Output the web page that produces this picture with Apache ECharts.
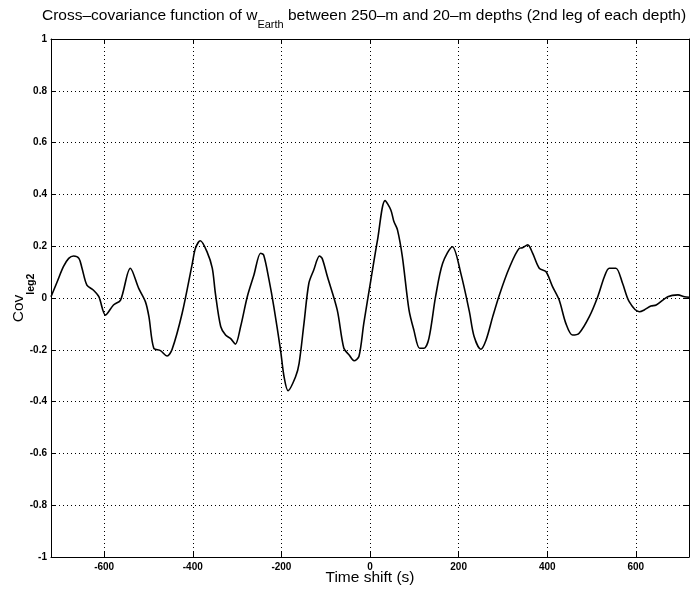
<!DOCTYPE html>
<html><head><meta charset="utf-8">
<script src="https://cdn.jsdelivr.net/npm/echarts@6/dist/echarts.min.js"></script>
<style>html,body{margin:0;padding:0;background:#fff}#c{width:691px;height:591px}</style>
</head><body><div id="c"></div>
<script>
const timeShift = [-720,-706,-692,-680,-669,-657,-650,-639,-624,-612,-597,-579,-563,-541,-522,-507,-499,-488,-473,-458,-447,-424,-401,-394,-383,-368,-356,-349,-337,-326,-315,-304,-292,-277,-262,-247,-240,-228,-217,-202,-194,-185,-168,-160,-149,-138,-127,-114,-108,-96,-74,-59,-47,-36,-25,-14,2,17,34,47,54,62,73,88,99,112,122,133,148,164,186,205,224,235,250,262,277,292,314,337,344,356,367,382,397,412,427,442,457,472,495,514,529,540,555,570,585,608,619,634,646,672,695,710,720];
const covLeg2 = [0.005,0.063,0.121,0.153,0.162,0.153,0.115,0.05,0.03,0.005,-0.066,-0.027,-0.008,0.115,0.037,-0.014,-0.072,-0.194,-0.203,-0.224,-0.2,-0.059,0.134,0.192,0.221,0.179,0.115,0.018,-0.11,-0.143,-0.156,-0.178,-0.11,0.005,0.089,0.173,0.166,0.071,-0.034,-0.2,-0.304,-0.358,-0.304,-0.252,-0.098,0.057,0.108,0.162,0.153,0.082,-0.046,-0.194,-0.22,-0.242,-0.226,-0.098,0.07,0.224,0.376,0.34,0.295,0.263,0.16,-0.046,-0.124,-0.194,-0.194,-0.156,0.005,0.134,0.198,0.095,-0.05,-0.149,-0.198,-0.162,-0.072,0.012,0.115,0.192,0.194,0.205,0.173,0.115,0.102,0.044,-0.008,-0.098,-0.143,-0.136,-0.072,0.005,0.082,0.115,0.115,0.057,-0.014,-0.053,-0.046,-0.031,-0.027,0.005,0.012,0.005,0.003];
const xTicks = [-600,-400,-200,0,200,400,600];
const xRange = [-720, 720];
const yRange = [-1, 1];
const yStep = 0.2;

const FONT = 'Liberation Sans';
const chart = echarts.init(document.getElementById('c'));
const frameLine = {show:true, onZero:false, lineStyle:{color:'#000', width:1}};
const dotted = {show:true, lineStyle:{color:'#000', width:1, type:[1,3]}};
const tickLbl = {fontFamily:FONT, fontSize:10, fontWeight:'bold', color:'#000'};
chart.setOption({
  animation:false,
  backgroundColor:'#fff',
  title:{
    text:'{a|Cross–covariance function of w}{s|Earth}{a| between 250–m and 20–m depths (2nd leg of each depth)}',
    left:37, top:3,
    textStyle:{fontWeight:'normal', rich:{
      a:{fontFamily:FONT, fontSize:15.5, fontWeight:'normal', color:'#000', lineHeight:17, verticalAlign:'top'},
      s:{fontFamily:FONT, fontSize:11, fontWeight:'normal', color:'#000', lineHeight:11, verticalAlign:'top', padding:[11,0,0,0]}
    }}
  },
  grid:{left:51, right:2, top:39, bottom:34, containLabel:false, outerBoundsMode:'none'},
  xAxis:[
    {type:'value', min:xRange[0], max:xRange[1], position:'bottom',
     axisLine:frameLine,
     axisTick:{show:true, inside:true, length:5, customValues:xTicks, lineStyle:{color:'#000'}},
     axisLabel:{customValues:xTicks, margin:5, ...tickLbl},
     splitLine:dotted,
     name:'Time shift (s)', nameLocation:'middle', nameGap:13, nameMoveOverlap:false,
     nameTextStyle:{fontFamily:FONT, fontSize:15.5, color:'#000', verticalAlign:'top'}},
    {type:'value', min:xRange[0], max:xRange[1], position:'top',
     axisLine:frameLine,
     axisTick:{show:true, inside:true, length:5, customValues:xTicks, lineStyle:{color:'#000'}},
     axisLabel:{show:false}, splitLine:{show:false}}
  ],
  yAxis:[
    {type:'value', min:yRange[0], max:yRange[1], interval:yStep, position:'left',
     axisLine:frameLine,
     axisTick:{show:true, inside:true, length:5, lineStyle:{color:'#000'}},
     axisLabel:{margin:4, ...tickLbl},
     splitLine:dotted,
     name:'{a|Cov}{s|leg2}', nameLocation:'middle', nameRotate:90, nameGap:23, nameMoveOverlap:false,
     nameTextStyle:{verticalAlign:'bottom', rich:{
       a:{fontFamily:FONT, fontSize:15.5, color:'#000', lineHeight:17, verticalAlign:'top'},
       s:{fontFamily:FONT, fontSize:10.5, fontWeight:'bold', color:'#000', lineHeight:11, verticalAlign:'top', padding:[15,0,0,0]}
     }}},
    {type:'value', min:yRange[0], max:yRange[1], interval:yStep, position:'right',
     axisLine:frameLine,
     axisTick:{show:true, inside:true, length:5, lineStyle:{color:'#000'}},
     axisLabel:{show:false}, splitLine:{show:false}}
  ],
  series:[{
    type:'line', xAxisIndex:0, yAxisIndex:0,
    data: timeShift.map((t,i)=>[t, covLeg2[i]]),
    showSymbol:false, smooth:0.3,
    lineStyle:{color:'#000', width:1.6}
  }]
});
</script></body></html>
